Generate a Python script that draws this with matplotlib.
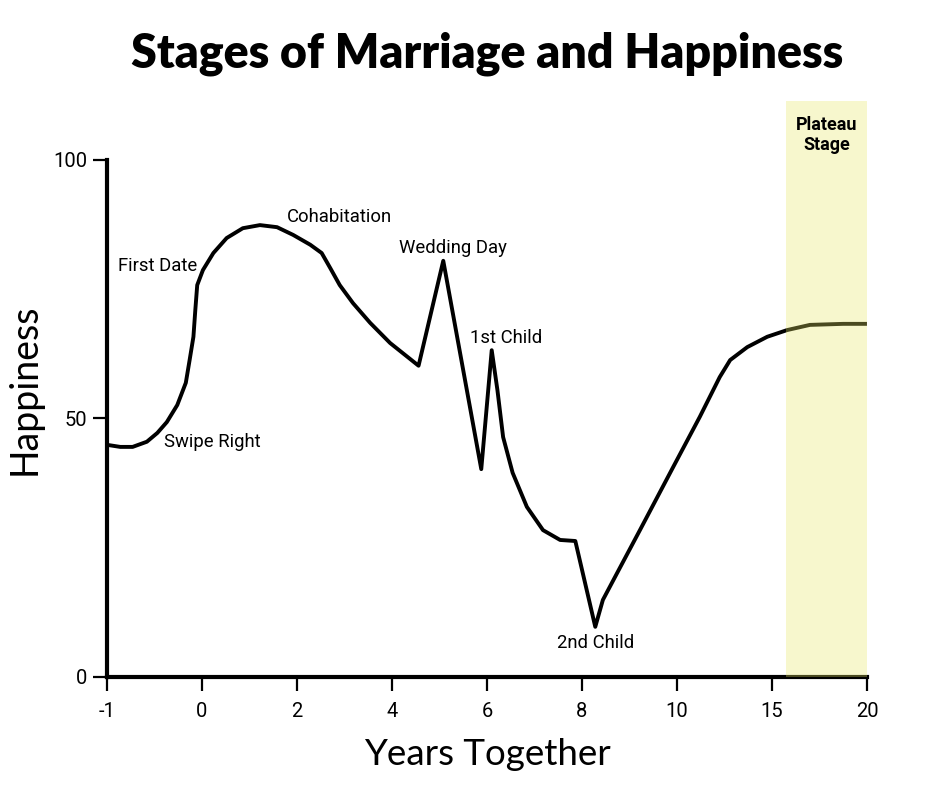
import matplotlib
matplotlib.use("Agg")
import matplotlib.pyplot as plt

# x positions are in tick-slot units (tick labels are not linearly spaced)
tick_labels = ['-1', '0', '2', '4', '6', '8', '10', '15', '20']
tick_pos = list(range(len(tick_labels)))

curve_x = [0.00, 0.14, 0.27, 0.42, 0.53, 0.63, 0.74, 0.83, 0.87, 0.91, 0.93, 0.95,
           1.01, 1.12, 1.26, 1.43, 1.61, 1.79, 1.96, 2.14, 2.26,
           2.35, 2.45, 2.59, 2.77, 2.98, 3.28,
           3.54, 3.94, 4.05,
           4.11, 4.17, 4.27, 4.42, 4.59, 4.77, 4.93,
           5.14, 5.22, 5.37, 5.61, 5.96, 6.24, 6.45, 6.56, 6.74, 6.95,
           7.16, 7.40, 7.75, 8.00]
curve_y = [44.9, 44.5, 44.5, 45.5, 47.2, 49.3, 52.6, 56.9, 61.3, 65.8, 71.0, 75.8,
           78.7, 82.0, 84.9, 86.8, 87.4, 87.0, 85.5, 83.6, 82.0,
           79.1, 75.8, 72.3, 68.5, 64.6, 60.2,
           80.5, 40.2, 63.2,
           55.5, 46.4, 39.5, 32.9, 28.4, 26.5, 26.3,
           9.7, 14.9, 20.1, 28.4, 40.6, 50.3, 58.0, 61.3, 63.8, 65.8,
           67.1, 68.1, 68.3, 68.3]

labels = ['First Date', 'Swipe Right', 'Cohabitation', 'Wedding Day',
          '1st Child', '2nd Child']
label_x = [0.53, 1.105, 2.45, 3.64, 4.2, 5.14]
label_y = [79.5, 45.5, 89.0, 83.0, 65.6, 6.6]

plateau_start = 7.15
plateau_end = 8.0

fig = plt.figure(figsize=(9.4, 7.88), dpi=100)
ax = fig.add_axes([0.1138, 0.1409, 0.9223 - 0.1138, 0.8718 - 0.1409])

ax.plot(curve_x, curve_y, color='black', lw=2.8, solid_joinstyle='round',
        solid_capstyle='butt', zorder=3, clip_on=False)
ax.axvspan(plateau_start, plateau_end, ymin=0, ymax=1, color='#E8E864',
           alpha=0.32, lw=0, zorder=5)
ax.text((plateau_start + plateau_end) / 2, 104.8, 'Plateau\nStage',
        ha='center', va='center', fontsize=13, fontweight='bold',
        family='Roboto', linespacing=1.15, zorder=6)

for t, x, y in zip(labels, label_x, label_y):
    ax.text(x, y, t, ha='center', va='center', fontsize=13.3, family='Roboto')

ax.set_xlim(0, 8)
ax.set_ylim(0, 111.4)
ax.spines['top'].set_visible(False)
ax.spines['right'].set_visible(False)
ax.spines['left'].set_bounds(0, 100)
for s in ('left', 'bottom'):
    ax.spines[s].set_linewidth(3.0)
    ax.spines[s].set_zorder(4)
ax.set_xticks(tick_pos)
ax.set_xticklabels(tick_labels)
ax.set_yticks([0, 50, 100])
ax.tick_params(axis='both', width=1.6, length=10, labelsize=14.5, color='black')
ax.tick_params(axis='x', pad=8)
ax.tick_params(axis='y', pad=4)
for lab in ax.get_xticklabels() + ax.get_yticklabels():
    lab.set_family('Roboto')

ax.set_xlabel('Years Together', fontsize=26.5, family='Lato', labelpad=12)
ax.set_ylabel('Happiness', fontsize=27, family='Lato', labelpad=8)

fig.text(0.518, 0.932, 'Stages of Marriage and Happiness', ha='center',
         va='center', fontsize=33.5, fontweight='heavy', family='Lato')

fig.savefig('out.png', dpi=100)
